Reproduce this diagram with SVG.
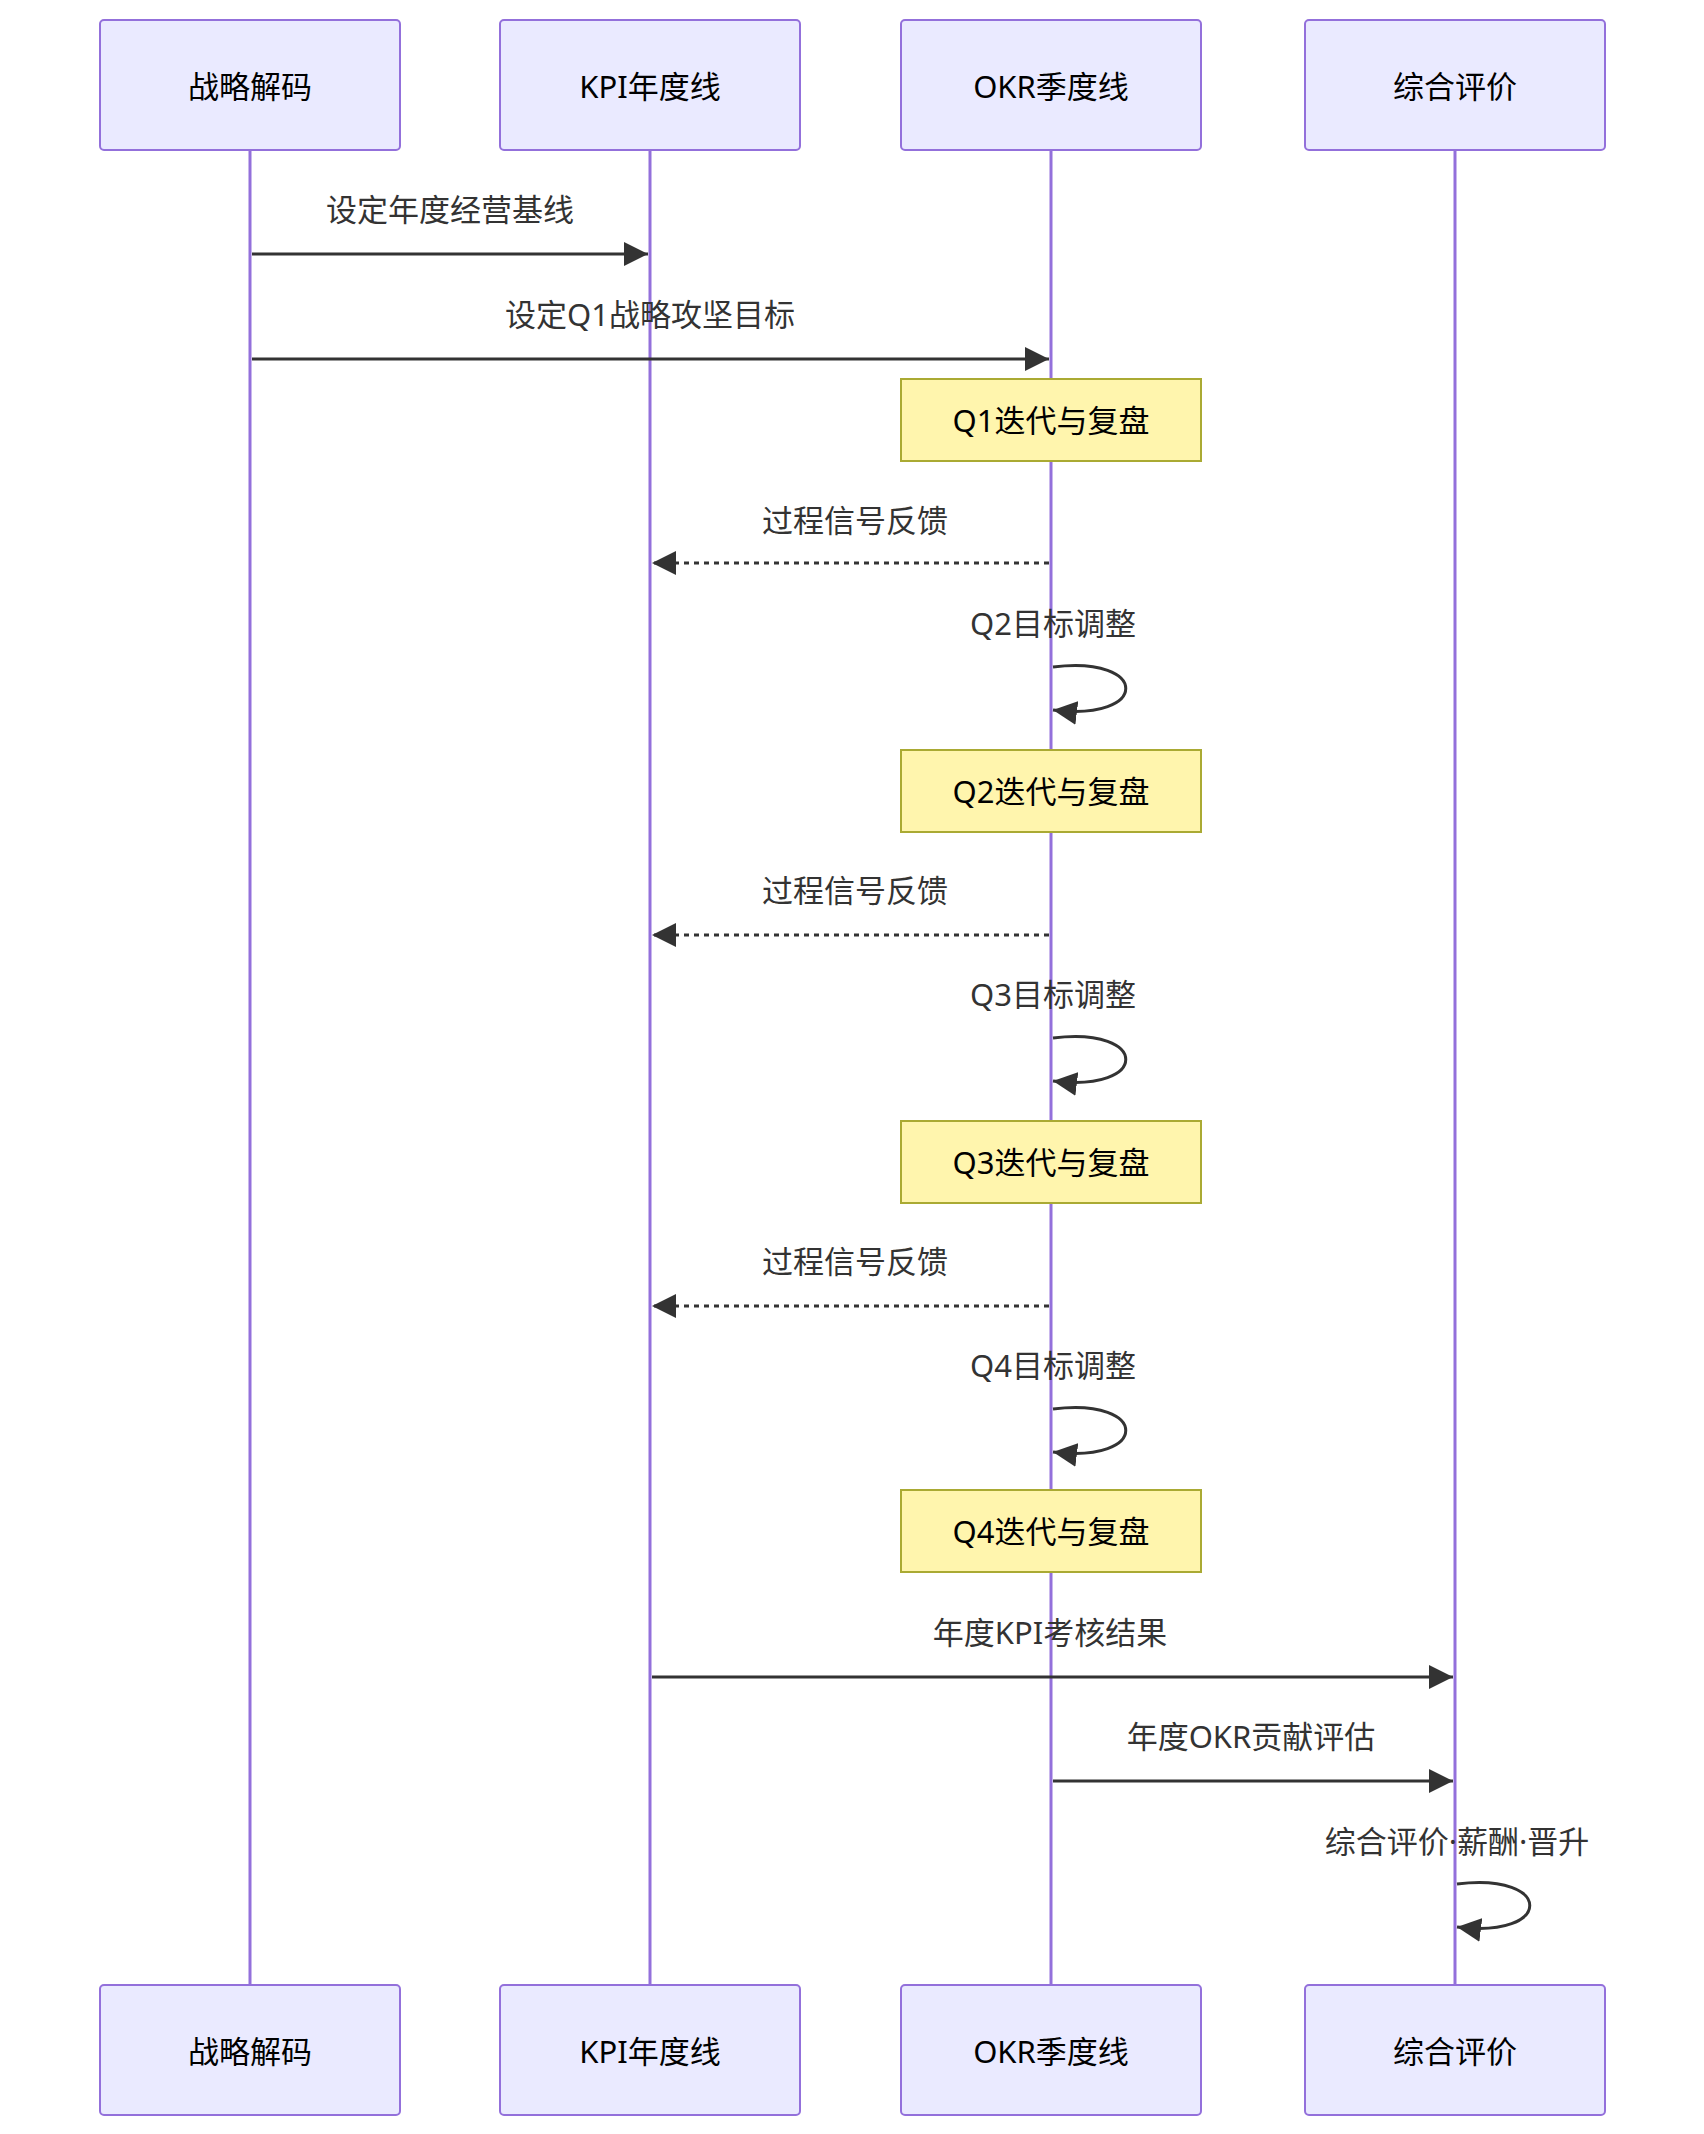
<svg xmlns="http://www.w3.org/2000/svg" width="1704" height="2134" viewBox="0 0 1704 2134">
<style>
.actor{fill:#eaeaff;stroke:#9370db;stroke-width:2}
.life{stroke:#9370db;stroke-width:3}
.note{fill:#fff5ad;stroke:#aaaa33;stroke-width:2}
.at{font-family:"Noto Sans","Noto Sans CJK SC",sans-serif;font-size:31px;fill:#000;text-anchor:middle;dominant-baseline:central}
.ml{font-family:"Noto Sans","Noto Sans CJK SC",sans-serif;font-size:31px;fill:#333;text-anchor:middle;dominant-baseline:central}
.msg{stroke:#333;stroke-width:3;fill:none}
.dash{stroke-dasharray:5,5}
</style>
<defs>
<marker id="ah" viewBox="0 0 12 12" refX="12" refY="6" markerWidth="8" markerHeight="8" markerUnits="strokeWidth" orient="auto"><path d="M0,0 L12,6 L0,12 z" fill="#333"/></marker>
</defs>
<g id="lifelines">
<line class="life" x1="250" y1="150" x2="250" y2="1985"/>
<line class="life" x1="650" y1="150" x2="650" y2="1985"/>
<line class="life" x1="1051" y1="150" x2="1051" y2="1985"/>
<line class="life" x1="1455" y1="150" x2="1455" y2="1985"/>
</g>
<g id="actor-a"><rect class="actor" x="100" y="20" width="300" height="130" rx="4"/><text class="at" x="250" y="86">战略解码</text></g>
<g id="actor-b"><rect class="actor" x="500" y="20" width="300" height="130" rx="4"/><text class="at" x="650" y="86">KPI年度线</text></g>
<g id="actor-c"><rect class="actor" x="901" y="20" width="300" height="130" rx="4"/><text class="at" x="1051" y="86">OKR季度线</text></g>
<g id="actor-d"><rect class="actor" x="1305" y="20" width="300" height="130" rx="4"/><text class="at" x="1455" y="86">综合评价</text></g>
<g id="actor-a-bottom"><rect class="actor" x="100" y="1985" width="300" height="130" rx="4"/><text class="at" x="250" y="2051">战略解码</text></g>
<g id="actor-b-bottom"><rect class="actor" x="500" y="1985" width="300" height="130" rx="4"/><text class="at" x="650" y="2051">KPI年度线</text></g>
<g id="actor-c-bottom"><rect class="actor" x="901" y="1985" width="300" height="130" rx="4"/><text class="at" x="1051" y="2051">OKR季度线</text></g>
<g id="actor-d-bottom"><rect class="actor" x="1305" y="1985" width="300" height="130" rx="4"/><text class="at" x="1455" y="2051">综合评价</text></g>
<g id="note-q1"><rect class="note" x="901" y="379" width="300" height="82"/><text class="at" x="1051" y="420">Q1迭代与复盘</text></g>
<g id="note-q2"><rect class="note" x="901" y="750" width="300" height="82"/><text class="at" x="1051" y="791">Q2迭代与复盘</text></g>
<g id="note-q3"><rect class="note" x="901" y="1121" width="300" height="82"/><text class="at" x="1051" y="1162">Q3迭代与复盘</text></g>
<g id="note-q4"><rect class="note" x="901" y="1490" width="300" height="82"/><text class="at" x="1051" y="1531">Q4迭代与复盘</text></g>
<g id="connectors">
<line class="msg" x1="252" y1="254" x2="648" y2="254" marker-end="url(#ah)"/>
<line class="msg" x1="252" y1="359" x2="1049" y2="359" marker-end="url(#ah)"/>
<line class="msg dash" x1="1049" y1="563" x2="652" y2="563" marker-end="url(#ah)"/>
<path class="msg" d="M1053,667 C1150,655 1150,722 1053,710" marker-end="url(#ah)"/>
<line class="msg dash" x1="1049" y1="935" x2="652" y2="935" marker-end="url(#ah)"/>
<path class="msg" d="M1053,1038 C1150,1026 1150,1093 1053,1081" marker-end="url(#ah)"/>
<line class="msg dash" x1="1049" y1="1306" x2="652" y2="1306" marker-end="url(#ah)"/>
<path class="msg" d="M1053,1409 C1150,1397 1150,1464 1053,1452" marker-end="url(#ah)"/>
<line class="msg" x1="652" y1="1677" x2="1453" y2="1677" marker-end="url(#ah)"/>
<line class="msg" x1="1053" y1="1781" x2="1453" y2="1781" marker-end="url(#ah)"/>
<path class="msg" d="M1457,1884 C1554,1872 1554,1939 1457,1927" marker-end="url(#ah)"/>
</g>
<g id="labels">
<text class="ml" x="450" y="209">设定年度经营基线</text>
<text class="ml" x="650" y="314">设定Q1战略攻坚目标</text>
<text class="ml" x="855" y="520">过程信号反馈</text>
<text class="ml" x="1053" y="623">Q2目标调整</text>
<text class="ml" x="855" y="890">过程信号反馈</text>
<text class="ml" x="1053" y="994">Q3目标调整</text>
<text class="ml" x="855" y="1261">过程信号反馈</text>
<text class="ml" x="1053" y="1365">Q4目标调整</text>
<text class="ml" x="1050" y="1632">年度KPI考核结果</text>
<text class="ml" x="1251" y="1736">年度OKR贡献评估</text>
<text class="ml" x="1457" y="1841">综合评价·薪酬·晋升</text>
</g>
</svg>
